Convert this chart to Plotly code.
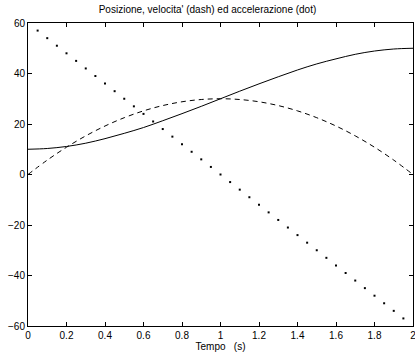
import plotly.graph_objects as go

t_line = [0.0, 0.1, 0.2, 0.3, 0.4, 0.5, 0.6, 0.7, 0.8, 0.9, 1.0,
          1.1, 1.2, 1.3, 1.4, 1.5, 1.6, 1.7, 1.8, 1.9, 2.0]
posizione = [10.0, 10.3, 11.1, 12.4, 14.2, 16.3, 18.6, 21.3, 24.1, 27.0, 30.0,
             33.0, 35.9, 38.7, 41.4, 43.8, 45.8, 47.6, 48.9, 49.7, 50.0]
velocita = [0.0, 5.7, 10.8, 15.3, 19.2, 22.5, 25.2, 27.3, 28.8, 29.7, 30.0,
            29.7, 28.8, 27.3, 25.2, 22.5, 19.2, 15.3, 10.8, 5.7, 0.0]

t_dot = [0.05, 0.10, 0.15, 0.20, 0.25, 0.30, 0.35, 0.40, 0.45, 0.50,
         0.55, 0.60, 0.65, 0.70, 0.75, 0.80, 0.85, 0.90, 0.95, 1.00,
         1.05, 1.10, 1.15, 1.20, 1.25, 1.30, 1.35, 1.40, 1.45, 1.50,
         1.55, 1.60, 1.65, 1.70, 1.75, 1.80, 1.85, 1.90, 1.95]
accelerazione = [57, 54, 51, 48, 45, 42, 39, 36, 33, 30,
                 27, 24, 21, 18, 15, 12, 9, 6, 3, 0,
                 -3, -6, -9, -12, -15, -18, -21, -24, -27, -30,
                 -33, -36, -39, -42, -45, -48, -51, -54, -57]

x_ticks = [0, 0.2, 0.4, 0.6, 0.8, 1, 1.2, 1.4, 1.6, 1.8, 2]
y_ticks = [-60, -40, -20, 0, 20, 40, 60]

fig = go.Figure()
fig.add_trace(go.Scatter(x=t_line, y=posizione, mode="lines", line_shape="spline",
                         line=dict(color="black", width=1)))
fig.add_trace(go.Scatter(x=t_line, y=velocita, mode="lines", line_shape="spline",
                         line=dict(color="black", width=1, dash="5px,4px")))
fig.add_trace(go.Scatter(x=t_dot, y=accelerazione, mode="markers",
                         marker=dict(color="black", size=2, symbol="square",
                                     line=dict(width=0))))

axis_common = dict(showgrid=False, zeroline=False, showline=True, linecolor="black",
                   linewidth=1, mirror="ticks", ticks="inside", ticklen=4,
                   tickcolor="black", tickfont=dict(size=10, color="black"),
                   ticklabeloverflow="allow")

fig.update_layout(
    width=415, height=353,
    margin=dict(l=28, r=2, t=23, b=27),
    paper_bgcolor="white", plot_bgcolor="white",
    font=dict(family="Liberation Sans, Arial, sans-serif", size=10, color="black"),
    showlegend=False,
    title=dict(text="Posizione, velocita' (dash) ed accelerazione (dot)",
               x=0.5, xanchor="center", y=0.972, yanchor="middle",
               font=dict(size=10, color="black")),
    xaxis=dict(range=[0, 2], tickvals=x_ticks, ticktext=[str(v) for v in x_ticks],
               title=dict(text="Tempo\u00a0\u00a0\u00a0(s)", standoff=0,
                          font=dict(size=10)),
               automargin=False,
               **axis_common),
    yaxis=dict(range=[-60, 60], tickvals=y_ticks, automargin=False, **axis_common),
)

fig.write_html("out.html")
